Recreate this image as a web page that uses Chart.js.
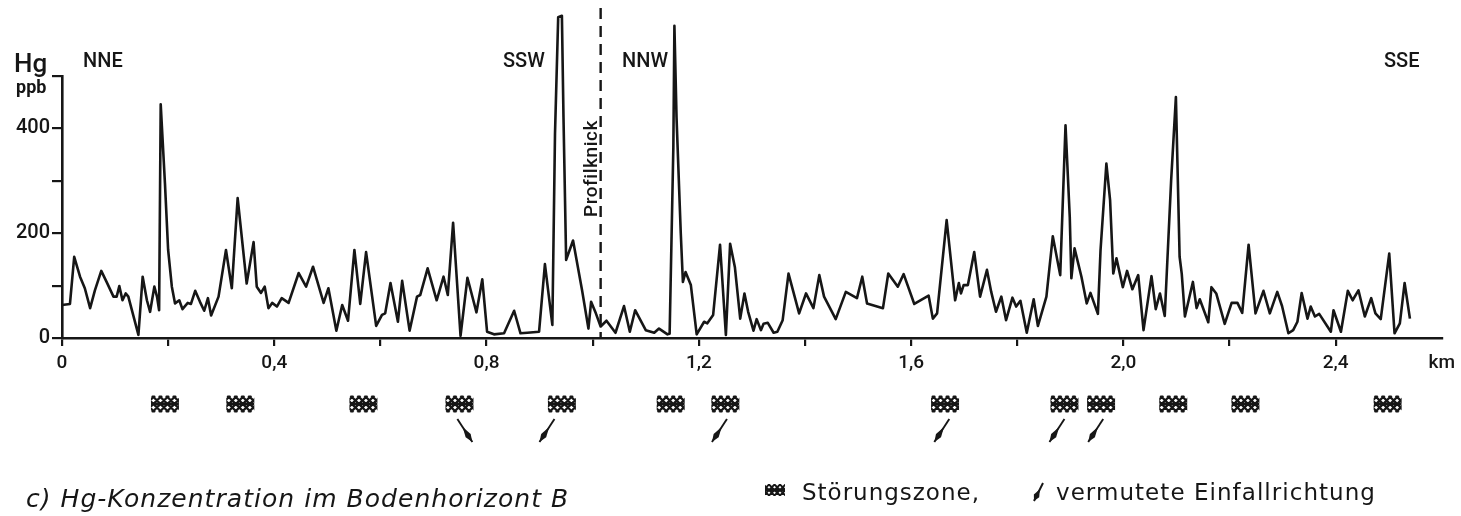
<!DOCTYPE html>
<html>
<head>
<meta charset="utf-8">
<title>Hg-Konzentration im Bodenhorizont B</title>
<script src="https://cdn.jsdelivr.net/npm/chart.js@4.4.1/dist/chart.umd.min.js"></script>
<style>
  html, body { margin: 0; padding: 0; background: #fff; }
  canvas { display: block; }
</style>
</head>
<body>
<canvas id="hgChart" width="1461" height="516"></canvas>
<script>
// profile distance (km) and Hg content (ppb)
const distKm = [
  0.000, 0.015, 0.023, 0.034, 0.043, 0.053, 0.062, 0.074, 0.084, 0.097, 0.103, 0.108, 0.114, 0.120, 0.125,
  0.144, 0.152, 0.160, 0.166, 0.174, 0.179, 0.183, 0.186, 0.194, 0.200, 0.207, 0.213, 0.221, 0.227, 0.237,
  0.243, 0.251, 0.260, 0.268, 0.275, 0.281, 0.295, 0.309, 0.320, 0.331, 0.348, 0.361, 0.367, 0.375, 0.382,
  0.389, 0.396, 0.405, 0.414, 0.427, 0.446, 0.460, 0.473, 0.493, 0.502, 0.517, 0.528, 0.539, 0.551, 0.562,
  0.573, 0.592, 0.603, 0.609, 0.619, 0.633, 0.641, 0.655, 0.669, 0.675, 0.689, 0.706, 0.719, 0.727, 0.737,
  0.751, 0.764, 0.781, 0.792, 0.801, 0.814, 0.833, 0.852, 0.864, 0.877, 0.899, 0.910, 0.924, 0.929, 0.935,
  0.942, 0.945, 0.950, 0.963, 0.980, 0.992, 0.997, 1.006, 1.015, 1.026, 1.043, 1.059, 1.070, 1.080, 1.100,
  1.116, 1.125, 1.141, 1.145, 1.152, 1.154, 1.158, 1.166, 1.170, 1.175, 1.185, 1.196, 1.210, 1.216, 1.227,
  1.240, 1.251, 1.259, 1.268, 1.278, 1.286, 1.293, 1.303, 1.309, 1.317, 1.322, 1.330, 1.341, 1.348, 1.358,
  1.369, 1.389, 1.402, 1.416, 1.427, 1.436, 1.458, 1.477, 1.498, 1.508, 1.517, 1.547, 1.557, 1.575, 1.586,
  1.606, 1.633, 1.641, 1.649, 1.667, 1.683, 1.690, 1.694, 1.699, 1.707, 1.719, 1.730, 1.743, 1.751, 1.760,
  1.770, 1.779, 1.791, 1.798, 1.806, 1.818, 1.831, 1.839, 1.855, 1.867, 1.881, 1.891, 1.899, 1.902, 1.908,
  1.921, 1.931, 1.938, 1.952, 1.957, 1.968, 1.975, 1.981, 1.987, 1.999, 2.007, 2.017, 2.028, 2.038, 2.053,
  2.061, 2.069, 2.078, 2.090, 2.099, 2.106, 2.110, 2.116, 2.131, 2.138, 2.144, 2.160, 2.166, 2.175, 2.191,
  2.204, 2.215, 2.224, 2.236, 2.249, 2.264, 2.276, 2.290, 2.299, 2.311, 2.320, 2.328, 2.336, 2.347, 2.353,
  2.361, 2.369, 2.391, 2.396, 2.410, 2.423, 2.432, 2.443, 2.455, 2.467, 2.475, 2.485, 2.501, 2.511, 2.521,
  2.530, 2.540
];
const hgPpb = [
  63, 65, 155, 117, 95, 57, 91, 128, 107, 79, 79, 99, 72, 85, 79,
  6, 117, 72, 50, 98, 79, 53, 446, 295, 168, 98, 66, 72, 55, 67,
  65, 90, 69, 52, 76, 43, 79, 168, 95, 267, 104, 183, 98, 86, 98,
  57, 67, 60, 76, 67, 124, 98, 136, 67, 95, 14, 63, 33, 168, 65,
  164, 23, 44, 47, 105, 31, 109, 14, 79, 82, 133, 72, 117, 82, 220,
  4, 115, 49, 112, 12, 7, 9, 52, 9, 10, 12, 141, 25, 390, 612,
  615, 421, 149, 186, 91, 18, 69, 47, 22, 33, 10, 61, 12, 53, 15,
  10, 18, 7, 8, 364, 596, 421, 200, 107, 126, 101, 7, 31, 28, 44,
  178, 6, 180, 135, 37, 85, 50, 14, 36, 15, 27, 29, 10, 12, 34,
  123, 47, 85, 57, 120, 79, 36, 88, 76, 117, 66, 57, 123, 98, 122,
  65, 81, 37, 47, 225, 72, 105, 85, 101, 101, 164, 79, 130, 88, 50,
  79, 34, 77, 60, 71, 10, 74, 23, 79, 194, 120, 406, 231, 114, 171,
  117, 66, 86, 46, 168, 333, 263, 123, 152, 97, 128, 93, 120, 15, 118,
  55, 85, 42, 300, 460, 155, 123, 41, 107, 57, 74, 30, 97, 85, 27,
  67, 67, 48, 178, 47, 90, 47, 88, 61, 9, 15, 31, 86, 37, 60,
  41, 46, 12, 53, 12, 90, 72, 91, 41, 76, 47, 36, 161, 9, 28,
  105, 37
];

// fault zones (Störungszonen) and presumed dip directions along the profile
const zoneKm = [0.194, 0.336, 0.568, 0.749, 0.942, 1.147, 1.250, 1.664, 1.889, 1.958, 2.094, 2.230, 2.498];
const arrowKm = [0.745, 0.928, 1.253, 1.672, 1.889, 1.962];
const arrowLean = [1, -1, -1, -1, -1, -1]; // +1 = dips toward the end of the profile

const bendKm = 1.015; // Profilknick
const directionLabels = ['NNE', 'SSW', 'NNW', 'SSE'];
const yLabelled = [0, 200, 400];
const xLabelled = [0, 0.4, 0.8, 1.2, 1.6, 2.0, 2.4];
const xUnit = 'km';

const INK = '#161616';
const FONT = 'Roboto, "DejaVu Sans", sans-serif';
const WIDE = '"DejaVu Sans", Roboto, sans-serif';

function fitText(ctx, text, x, y, width) {
    ctx.letterSpacing = '0px';
    let w = ctx.measureText(text).width;
    let extra = (width - w) / (text.length - 1);
    ctx.letterSpacing = extra.toFixed(2) + 'px';
    ctx.fillText(text, x, y);
    ctx.letterSpacing = '0px';
}

// cross-hatched patch used for the fault zones
function drawHatch(ctx, cx, cy, w, h, step, lw) {
    ctx.save();
    ctx.beginPath();
    ctx.rect(cx - w / 2, cy - h / 2, w, h);
    ctx.clip();
    ctx.strokeStyle = INK;
    ctx.lineWidth = lw;
    ctx.beginPath();
    for (let d = -h; d < w + h; d += step) {
        ctx.moveTo(cx - w / 2 + d, cy - h / 2);
        ctx.lineTo(cx - w / 2 + d - h, cy + h / 2);
        ctx.moveTo(cx - w / 2 + d - h, cy - h / 2);
        ctx.lineTo(cx - w / 2 + d, cy + h / 2);
    }
    ctx.moveTo(cx - w / 2, cy);
    ctx.lineTo(cx + w / 2, cy);
    ctx.stroke();
    ctx.restore();
}

function drawDart(ctx, x0, y0, x1, y1) {
    // thin shaft with a long filled head at the lower end
    let dx = x1 - x0, dy = y1 - y0;
    let len = Math.hypot(dx, dy);
    let nx = -dy / len, ny = dx / len;
    let p = t => [x0 + dx * t, y0 + dy * t];
    ctx.save();
    ctx.strokeStyle = INK;
    ctx.fillStyle = INK;
    ctx.lineWidth = 1.9;
    ctx.beginPath();
    ctx.moveTo(x0, y0);
    ctx.lineTo(x1, y1);
    ctx.stroke();
    let a = p(0.35), m = p(0.72), b = p(1);
    ctx.beginPath();
    ctx.moveTo(a[0], a[1]);
    ctx.lineTo(m[0] + nx * 3, m[1] + ny * 3);
    ctx.lineTo(b[0], b[1]);
    ctx.lineTo(m[0] - nx * 3, m[1] - ny * 3);
    ctx.closePath();
    ctx.fill();
    ctx.restore();
}

const overlay = {
    id: 'overlay',
    beforeDraw(chart) {
        let ctx = chart.ctx;
        ctx.save();
        ctx.fillStyle = '#fff';
        ctx.fillRect(0, 0, chart.width, chart.height);
        ctx.restore();
    },
    afterDraw(chart) {
        let ctx = chart.ctx;
        let xs = chart.scales.x, ys = chart.scales.y;
        ctx.save();
        ctx.fillStyle = INK;
        ctx.strokeStyle = INK;

        // Profilknick: dashed vertical line
        let bx = xs.getPixelForValue(bendKm);
        ctx.lineWidth = 2.4;
        ctx.setLineDash([11, 7]);
        ctx.beginPath();
        ctx.moveTo(bx, 8);
        ctx.lineTo(bx, ys.getPixelForValue(0));
        ctx.stroke();
        ctx.setLineDash([]);

        ctx.save();
        ctx.translate(bx - 4, 217);
        ctx.rotate(-Math.PI / 2);
        ctx.font = `500 19px ${FONT}`;
        ctx.textBaseline = 'alphabetic';
        fitText(ctx, 'Profilknick', 0, 0, 96);
        ctx.restore();

        // axis title
        ctx.textBaseline = 'alphabetic';
        ctx.font = `500 26px ${FONT}`;
        ctx.fillText('Hg', 14, 72);
        ctx.font = `bold 18px ${FONT}`;
        ctx.fillText('ppb', 16, 93);

        // direction labels
        ctx.font = `500 20px ${FONT}`;
        let dirX = [83, 503, 622, 1384];
        directionLabels.forEach((t, i) => ctx.fillText(t, dirX[i], 67));

        // fault zones and dip arrows
        zoneKm.forEach(k => drawHatch(ctx, xs.getPixelForValue(k), 404, 28, 17, 7, 2.3));
        arrowKm.forEach((k, i) => {
            let x = xs.getPixelForValue(k);
            drawDart(ctx, x, 419, x + arrowLean[i] * 15, 442);
        });

        // caption and key
        ctx.font = `oblique 25px ${WIDE}`;
        fitText(ctx, 'c) Hg-Konzentration im Bodenhorizont B', 26, 507, 542);

        drawHatch(ctx, 775, 490, 20, 12, 5.5, 1.9);
        ctx.font = `23px ${WIDE}`;
        fitText(ctx, 'Störungszone,', 802, 500, 177);
        drawDart(ctx, 1043, 483, 1034, 501);
        fitText(ctx, 'vermutete Einfallrichtung', 1056, 500, 319);
        ctx.restore();
    }
};

const points = distKm.map((d, i) => ({ x: d, y: hgPpb[i] }));

const config = {
    type: 'line',
    data: {
        datasets: [{
            label: 'Hg',
            data: points,
            borderColor: INK,
            borderWidth: 2.6,
            borderJoinStyle: 'round',
            pointRadius: 0,
            tension: 0,
            fill: false,
            clip: false
        }]
    },
    options: {
        responsive: false,
        animation: false,
        devicePixelRatio: 1,
        layout: { padding: { top: 76, right: 19, bottom: 138, left: 0 } },
        plugins: { legend: { display: false }, tooltip: { enabled: false } },
        scales: {
            x: {
                type: 'linear',
                min: 0,
                max: 2.6,
                afterFit: s => { s.height = 40; },
                border: { color: INK, width: 2.6 },
                grid: {
                    drawOnChartArea: false,
                    tickLength: 8,
                    lineWidth: 2.2,
                    color: c => (c.tick && c.tick.value > 2.55) ? 'rgba(0,0,0,0)' : INK
                },
                ticks: {
                    stepSize: 0.2,
                    autoSkip: false,
                    maxRotation: 0,
                    padding: 6,
                    color: INK,
                    font: { family: FONT, size: 19, weight: '500' },
                    callback: v => {
                        if (v > 2.55) return xUnit;
                        let hit = xLabelled.find(l => Math.abs(l - v) < 1e-6);
                        if (hit === undefined) return '';
                        return hit === 0 ? '0' : hit.toFixed(1).replace('.', ',');
                    }
                }
            },
            y: {
                min: 0,
                max: 500,
                afterFit: s => { s.width = 62; },
                border: { color: INK, width: 2.6 },
                grid: { drawOnChartArea: false, tickLength: 10, lineWidth: 2.2, color: INK },
                ticks: {
                    stepSize: 100,
                    padding: 2,
                    color: INK,
                    font: { family: FONT, size: 20, weight: '500' },
                    callback: v => yLabelled.includes(v) ? String(v) : ''
                }
            }
        }
    },
    plugins: [overlay]
};

new Chart(document.getElementById('hgChart'), config);
</script>
</body>
</html>
